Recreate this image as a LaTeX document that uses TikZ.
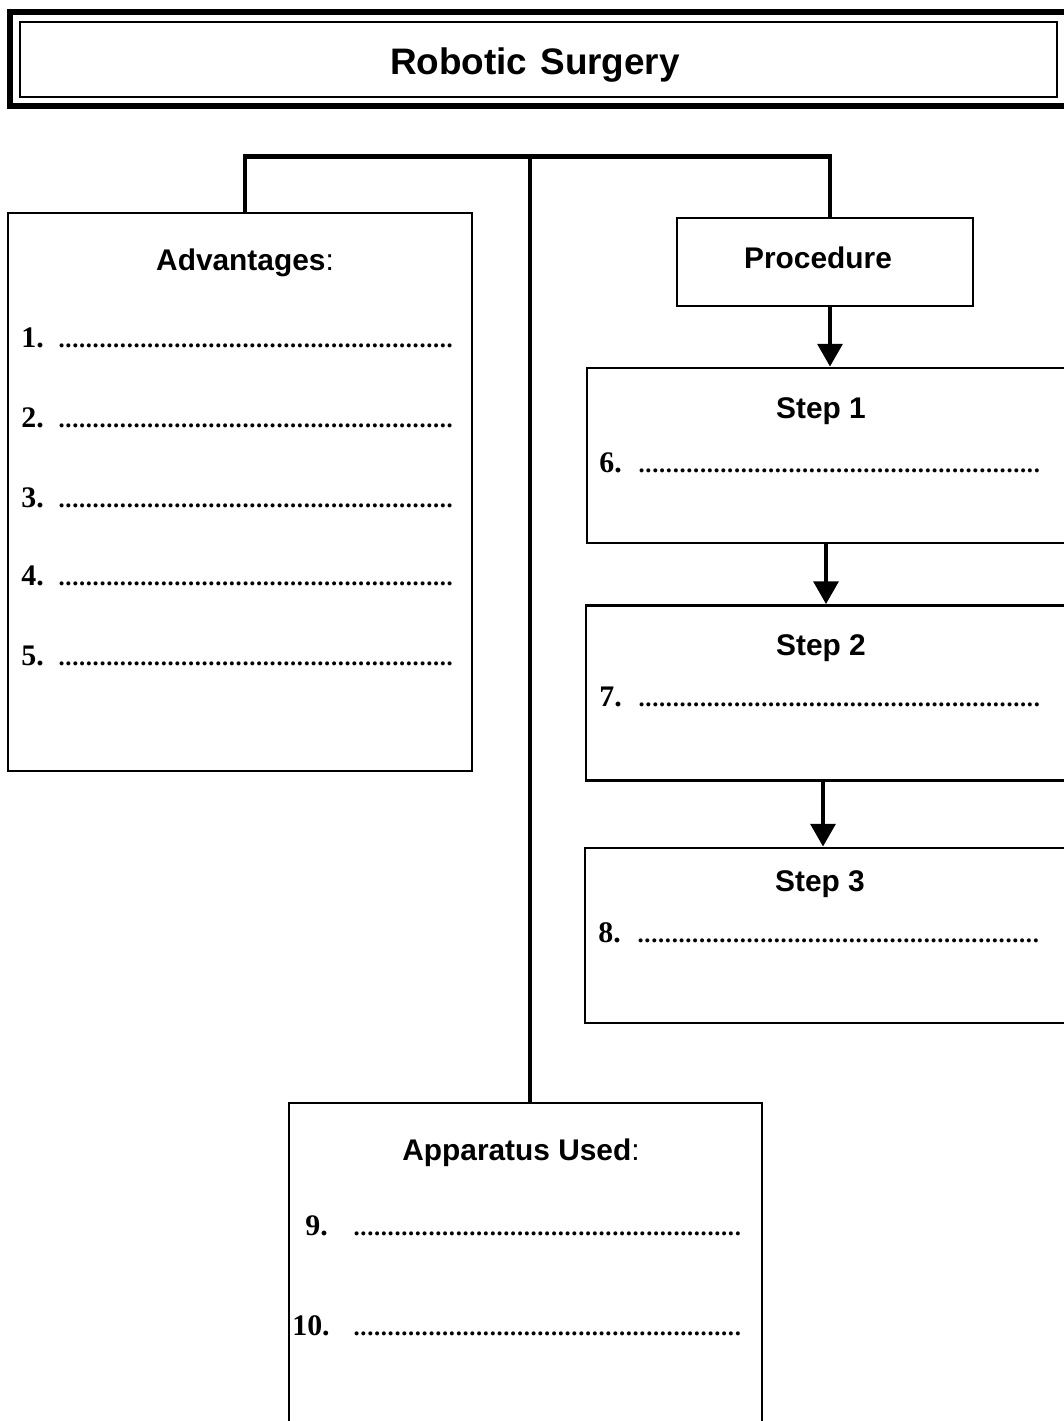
\documentclass[tikz,border=0pt]{standalone}
\usepackage{fontspec}
\setmainfont{Liberation Serif}
\setsansfont{Liberation Sans}
\usetikzlibrary{arrows.meta,positioning}

\tikzset{
    box/.style={draw, line width=1.6pt, inner sep=0pt},
    head/.style={font=\sffamily\bfseries\fontsize{17}{20}\selectfont, anchor=base, inner sep=0pt},
    num/.style={font=\bfseries\fontsize{17}{20}\selectfont, anchor=base west, inner sep=0pt},
    blank/.style={font=\bfseries\fontsize{14}{18}\selectfont, anchor=base west, inner sep=0pt},
    tree/.style={line width=2.8pt},
    flow/.style={line width=2.6pt, -{Triangle[width=14pt,length=13pt]}},
}
\newcommand{\dotrow}[1]{\hbox to #1{\xleaders\hbox to 3.85pt{\hss.\hss}\hfill}}

\begin{document}
\begin{tikzpicture}[x=0.02cm, y=-0.02cm]
    \useasboundingbox (0,0) rectangle (1064,1421);
    \clip (0,0) rectangle (1064,1421);

    % Title frame
    \draw[line width=3.6pt] (10,12) rectangle (1090,106);
    \draw[line width=1.2pt] (20,22) rectangle (1057,97);
    \node[font=\sffamily\bfseries\fontsize{21}{24}\selectfont, anchor=base] (title) at (535,74) {Robotic\hspace{0.35em}Surgery};

    % Boxes
    \node[box, minimum width=9.28cm, minimum height=11.16cm] (adv) at (240,492) {};
    \node[box, minimum width=5.92cm, minimum height=1.76cm] (proc) at (825,262) {};
    \node[box, minimum width=9.76cm, minimum height=3.5cm] (sa) at (831,455.5) {};
    \node[box, minimum width=9.76cm, minimum height=3.5cm] (sb) at (830,693) {};
    \node[box, minimum width=9.76cm, minimum height=3.5cm] (sc) at (829,935.5) {};
    \node[box, minimum width=9.46cm, minimum height=7cm] (app) at (525.5,1278) {};

    % Tree lines
    \draw[tree] ([xshift=0.1cm]adv.north) -- ++(0,-55) -| ([xshift=0.1cm]proc.north);
    \coordinate (hub) at (530,158);
    \draw[tree] (hub) -- (hub |- app.north);

    % Procedure arrows
    \draw[flow] ([xshift=0.1cm]proc.south) -- ([xshift=0.1cm]proc.south |- sa.north);
    \draw[flow] ([xshift=-0.1cm]sa.south) -- ([xshift=-0.1cm]sa.south |- sb.north);
    \draw[flow] ([xshift=-0.14cm]sb.south) -- ([xshift=-0.14cm]sb.south |- sc.north);

    % Advantages
    \node[head] (advh) at (245,270) {Advantages\mdseries:};
    \node[num] (n1) at (21,347) {1.};
    \node[blank] (d1) at (58,347) {\dotrow{7.9cm}};
    \node[num] (n2) at (21,427) {2.};
    \node[blank] (d2) at (58,427) {\dotrow{7.9cm}};
    \node[num] (n3) at (21,507) {3.};
    \node[blank] (d3) at (58,507) {\dotrow{7.9cm}};
    \node[num] (n4) at (21,585) {4.};
    \node[blank] (d4) at (58,585) {\dotrow{7.9cm}};
    \node[num] (n5) at (21,665) {5.};
    \node[blank] (d5) at (58,665) {\dotrow{7.9cm}};

    % Procedure and steps
    \node[head] (proch) at (818,268) {Procedure};
    \node[head] (sah) at (821,418) {Step 1};
    \node[num] (n6) at (599,472) {6.};
    \node[blank] (d6) at (638,472) {\dotrow{8.04cm}};
    \node[head] (sbh) at (821,655) {Step 2};
    \node[num] (n7) at (599,706) {7.};
    \node[blank] (d7) at (638,706) {\dotrow{8.04cm}};
    \node[head] (sch) at (820,891) {Step 3};
    \node[num] (n8) at (598,942) {8.};
    \node[blank] (d8) at (637,942) {\dotrow{8.04cm}};

    % Apparatus
    \node[head] (apph) at (521,1160) {Apparatus Used\mdseries:};
    \node[num] (n9) at (305,1235) {9.};
    \node[blank] (d9) at (353,1235) {\dotrow{7.76cm}};
    \node[num] (n10) at (292,1335) {10.};
    \node[blank] (d10) at (353,1335) {\dotrow{7.76cm}};
\end{tikzpicture}
\end{document}
